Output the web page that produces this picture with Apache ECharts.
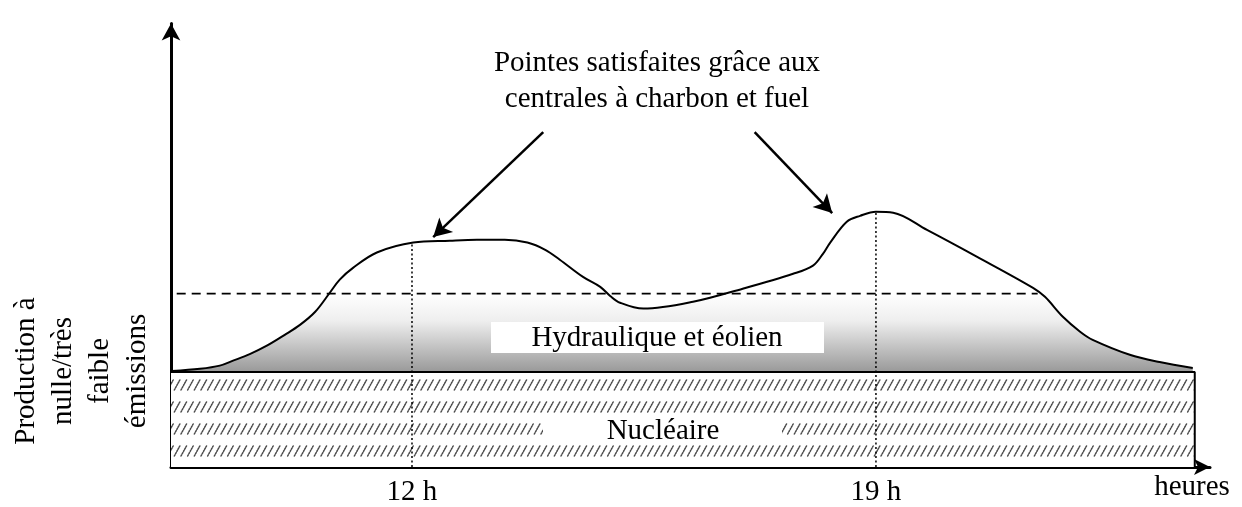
<!DOCTYPE html>
<html>
<head>
<meta charset="utf-8">
<script src="https://cdn.jsdelivr.net/npm/echarts@6/dist/echarts.min.js"></script>
<style>
html,body{margin:0;padding:0;background:#fff;}
#chart{width:1242px;height:507px;}
</style>
</head>
<body>
<div id="chart"></div>
<script>
// ---- data (hours on x, arbitrary production units on y) ----
const hours = [8.38, 8.80, 9.10, 9.30, 9.56, 9.81, 10.08, 10.31, 10.54, 10.76, 10.91, 11.11, 11.47, 12.02, 12.57, 12.98, 13.40, 13.74, 14.01, 14.23, 14.58, 14.84, 14.99, 15.14, 15.49, 16.24, 16.99, 17.75, 18.05, 18.20, 18.31, 18.56, 18.76, 19.00, 19.26, 19.77, 20.52, 21.37, 21.55, 21.82, 22.08, 22.27, 22.83, 23.28, 23.78];
const load  = [21.2, 21.7, 22.4, 23.5, 25.0, 26.8, 29.2, 31.4, 34.3, 38.5, 41.4, 44.0, 47.4, 49.6, 50.0, 50.2, 50.2, 49.6, 48.0, 45.8, 42.0, 39.8, 37.8, 36.3, 35.0, 36.5, 39.4, 42.7, 44.5, 47.1, 49.6, 54.2, 55.5, 56.4, 56.2, 52.4, 46.5, 39.6, 37.6, 33.2, 29.9, 28.1, 24.8, 23.2, 21.9];
const nuclearLevel = 21;
const dayStart = 8.364;
const dayEnd = 23.81;
const axisMaxHour = 24.04;
const axisMaxValue = 98;
const thresholdLevel = 38.3;
const thresholdRange = [8.45, 21.44];
const tickHours = [12, 19];
const markerHours = [12, 19];
const markerTops = [49.6, 56.4];
const arrowFrom = [[13.98, 74.0], [17.17, 74.0]];
const arrowTo = [[12.32, 50.8], [18.34, 56.1]];
const titleText = 'Pointes satisfaites grâce aux\ncentrales à charbon et fuel';
const yTitle = 'Production à\nnulle/très\nfaible\némissions';
const xTitle = 'heures';
const hydroLabel = 'Hydraulique et éolien';
const nuclearLabel = 'Nucléaire';

const FONT = "'Liberation Serif', 'Times New Roman', serif";

function makeHatch() {
  const c = document.createElement('canvas');
  c.width = 20; c.height = 22;
  const g = c.getContext('2d');
  g.fillStyle = '#fff';
  g.fillRect(0, 0, 20, 22);
  g.strokeStyle = '#4a4a4a';
  g.lineWidth = 1.5;
  g.lineCap = 'round';
  g.setLineDash([1.2, 1.4]);
  for (let i = -1; i <= 3; i++) {
    const x0 = i * (20 / 3);
    g.beginPath();
    g.moveTo(x0 + 1, 16);
    g.lineTo(x0 + 6.5, 6);
    g.stroke();
  }
  return c;
}

const chart = echarts.init(document.getElementById('chart'), null, {renderer: 'canvas'});

const markerSeries = markerHours.map((h, i) => ({
  type: 'line', data: [[h, 0], [h, markerTops[i]]], symbol: 'none', silent: true, z: 6,
  lineStyle: {color: '#000', width: 1.5, type: [2, 2.5]}
}));

// gradient covers 0..thresholdLevel; visible part is nuclearLevel..thresholdLevel
const visFrac = (thresholdLevel - nuclearLevel) / thresholdLevel;

const option = {
  animation: false,
  backgroundColor: '#fff',
  grid: {left: 171, right: 32, top: 23.5, bottom: 40},
  xAxis: {
    type: 'value', min: dayStart, max: axisMaxHour,
    axisLine: {show: true, onZero: false, symbol: ['none', 'arrow'], symbolSize: [12, 16],
      lineStyle: {color: '#000', width: 3}},
    axisTick: {show: false}, splitLine: {show: false},
    axisLabel: {customValues: tickHours, formatter: '{value} h', color: '#000', fontSize: 29,
      fontFamily: FONT, margin: 11}
  },
  yAxis: {
    type: 'value', min: 0, max: axisMaxValue,
    axisLine: {show: true, onZero: false, symbol: ['none', 'arrow'], symbolSize: [14, 17],
      lineStyle: {color: '#000', width: 3}},
    axisTick: {show: false}, splitLine: {show: false}, axisLabel: {show: false}
  },
  series: [
    {
      name: 'hydro', type: 'line', symbol: 'none', silent: true, z: 1, smooth: 0.35,
      data: hours.map((h, i) => [h, Math.min(load[i], thresholdLevel)]),
      lineStyle: {opacity: 0},
      areaStyle: {opacity: 1, color: new echarts.graphic.LinearGradient(0, 0, 0, 1, [
        {offset: 0, color: '#ffffff'},
        {offset: visFrac * 0.35, color: '#eeeeee'},
        {offset: visFrac, color: '#999999'},
        {offset: 1, color: '#999999'}
      ])}
    },
    {
      name: 'nuclear', type: 'line', symbol: 'none', silent: true, z: 3,
      data: [[dayStart, nuclearLevel], [dayEnd, nuclearLevel], [dayEnd, 0]],
      lineStyle: {color: '#000', width: 2},
      areaStyle: {color: {image: makeHatch(), repeat: 'repeat'}, opacity: 1}
    },
    {
      name: 'threshold', type: 'line', symbol: 'none', silent: true, z: 4,
      data: thresholdRange.map(h => [h, thresholdLevel]),
      lineStyle: {color: '#000', width: 1.8, type: [9, 6]}
    },
    {
      name: 'load', type: 'line', symbol: 'none', silent: true, z: 5, smooth: 0.35,
      data: hours.map((h, i) => [h, load[i]]),
      lineStyle: {color: '#000', width: 2},
      markLine: {
        silent: true, animation: false,
        symbol: ['none', 'arrow'], symbolSize: [15, 18],
        label: {show: false},
        lineStyle: {color: '#000', width: 2.5, type: 'solid'},
        data: arrowFrom.map((p, i) => [{coord: p}, {coord: arrowTo[i]}])
      }
    },
    ...markerSeries
  ],
  graphic: [
    {type: 'text', x: 657, y: 81, z: 100, style: {
      text: titleText, font: '29px ' + FONT, fill: '#000', align: 'center', verticalAlign: 'middle', lineHeight: 36}},
    {type: 'text', x: 82, y: 371, rotation: Math.PI / 2, z: 100, style: {
      text: yTitle, font: '29px ' + FONT, fill: '#000', align: 'center', verticalAlign: 'middle', lineHeight: 37}},
    {type: 'text', x: 1192, y: 487, z: 100, style: {
      text: xTitle, font: '29px ' + FONT, fill: '#000', align: 'center', verticalAlign: 'middle'}},
    {type: 'rect', shape: {x: 491, y: 322, width: 333, height: 31}, z: 90, style: {fill: '#fff'}},
    {type: 'text', x: 657, y: 338, z: 100, style: {
      text: hydroLabel, font: '29px ' + FONT, fill: '#000', align: 'center', verticalAlign: 'middle'}},
    {type: 'rect', shape: {x: 543, y: 417, width: 239, height: 25}, z: 90, style: {fill: '#fff'}},
    {type: 'text', x: 663, y: 431, z: 100, style: {
      text: nuclearLabel, font: '29px ' + FONT, fill: '#000', align: 'center', verticalAlign: 'middle'}}
  ]
};
chart.setOption(option);
</script>
</body>
</html>
